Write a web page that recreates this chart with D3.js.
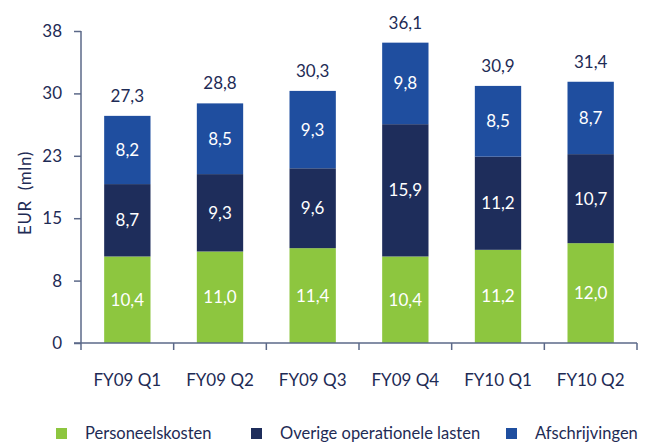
<!DOCTYPE html>
<html>
<head>
<meta charset="utf-8">
<script src="https://cdn.jsdelivr.net/npm/d3@7"></script>
<style>
  body { margin: 0; background: #fff; }
  svg text { font-family: Lato, "Open Sans", sans-serif; }
</style>
</head>
<body>
<div class="chart"></div>
<script>
// data
const quarters = ["FY09 Q1", "FY09 Q2", "FY09 Q3", "FY09 Q4", "FY10 Q1", "FY10 Q2"];
const personeelskosten = [10.4, 11.0, 11.4, 10.4, 11.2, 12.0];
const overige = [8.7, 9.3, 9.6, 15.9, 11.2, 10.7];
const afschrijvingen = [8.2, 8.5, 9.3, 9.8, 8.5, 8.7];
const totals = [27.3, 28.8, 30.3, 36.1, 30.9, 31.4];
const seriesNames = ["Personeelskosten", "Overige operationele lasten", "Afschrijvingen"];
const tickValues = [0, 7.5, 15, 22.5, 30, 37.5];
const tickLabels = ["0", "8", "15", "23", "30", "38"];

const w = 657, h = 443;
const textColor = "#1e2b55";
const axisColor = "#5b6888";
const colors = ["#8dc63f", "#1e2d5b", "#1f4e9f"];

const svg = d3.select(".chart")
    .append("svg")
    .attr("width", w)
    .attr("height", h);

const x = d3.scaleBand().domain(quarters).range([81, 637]).paddingInner(0.5).paddingOuter(0.25);
const y = d3.scaleLinear().domain([0, 37.5]).range([343, 31]);

const rows = quarters.map((q, i) => ({
    q: q,
    Personeelskosten: personeelskosten[i],
    "Overige operationele lasten": overige[i],
    Afschrijvingen: afschrijvingen[i]
}));
const stacked = d3.stack().keys(seriesNames)(rows);

const fmt = v => v.toFixed(1).replace(".", ",");

// bars
const layers = svg.selectAll("g.layer")
    .data(stacked)
    .enter().append("g")
    .attr("class", "layer")
    .style("fill", (d, i) => colors[i]);

layers.selectAll("rect")
    .data(d => d)
    .enter().append("rect")
    .attr("x", d => x(d.data.q))
    .attr("width", x.bandwidth())
    .attr("y", d => y(d[1]))
    .attr("height", d => y(d[0]) - y(d[1]));

layers.selectAll("text")
    .data(d => d)
    .enter().append("text")
    .attr("x", d => x(d.data.q) + x.bandwidth() / 2)
    .attr("y", d => (y(d[0]) + y(d[1])) / 2)
    .attr("dy", "0.35em")
    .attr("text-anchor", "middle")
    .style("fill", "#fff")
    .style("font-size", "17px")
    .text(d => fmt(d[1] - d[0]));

// totals
svg.selectAll("text.total")
    .data(quarters)
    .enter().append("text")
    .attr("class", "total")
    .attr("x", d => x(d) + x.bandwidth() / 2)
    .attr("y", (d, i) => y(totals[i]) - 20)
    .attr("dy", "0.35em")
    .attr("text-anchor", "middle")
    .style("fill", textColor)
    .style("font-size", "17px")
    .text((d, i) => fmt(totals[i]));

// y axis
const yAxis = svg.append("g")
    .attr("transform", "translate(81,0)")
    .call(d3.axisLeft(y).tickValues(tickValues).tickFormat((d, i) => tickLabels[i]).tickSize(7).tickPadding(12).tickSizeOuter(0));
yAxis.select(".domain").attr("d", "M0,31V350");

// x axis
const xAxis = svg.append("g")
    .attr("transform", "translate(0,343)")
    .call(d3.axisBottom(x).tickSize(0).tickPadding(31).tickSizeOuter(0));
xAxis.select(".domain").attr("d", "M74,0H637");
xAxis.selectAll("line.sep")
    .data(quarters)
    .enter().append("line")
    .attr("class", "sep")
    .attr("x1", d => x(d) + x.bandwidth() + x.step() * 0.25)
    .attr("x2", d => x(d) + x.bandwidth() + x.step() * 0.25)
    .attr("y1", 0).attr("y2", 7);

svg.selectAll(".domain, .tick line, line.sep")
    .attr("stroke", axisColor)
    .attr("stroke-width", 1.5);
svg.selectAll(".tick text")
    .style("fill", textColor)
    .style("font-size", "17px");

svg.append("text")
    .attr("transform", "translate(31,193) rotate(-90)")
    .attr("text-anchor", "middle")
    .style("fill", textColor)
    .style("font-size", "17px")
    .style("letter-spacing", "0.6px")
    .attr("xml:space", "preserve")
    .text("EUR  (mln)");

// legend
const legendX = [56, 251, 506];
const legend = svg.selectAll("g.legend")
    .data(seriesNames)
    .enter().append("g")
    .attr("class", "legend")
    .attr("transform", (d, i) => "translate(" + legendX[i] + ",433)");
legend.append("rect")
    .attr("x", 0).attr("y", -5)
    .attr("width", 11).attr("height", 11)
    .style("fill", (d, i) => colors[i]);
legend.append("text")
    .attr("x", 29)
    .attr("dy", "0.35em")
    .style("fill", textColor)
    .style("font-size", "16.5px")
    .text(d => d);
</script>
</body>
</html>
